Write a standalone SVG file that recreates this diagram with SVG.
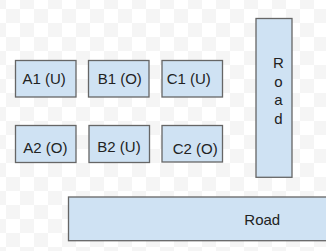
<svg xmlns="http://www.w3.org/2000/svg" width="326" height="251" viewBox="0 0 326 251">
<defs>
<pattern id="chk" patternUnits="userSpaceOnUse" x="6" y="9" width="28" height="28">
<rect width="28" height="28" fill="#ffffff"/>
<rect x="0" y="0" width="14" height="14" fill="#f5f5f5"/>
<rect x="14" y="14" width="14" height="14" fill="#f5f5f5"/>
</pattern>
</defs>
<style>
.box{fill:#cfe2f3;stroke:#666666;stroke-width:1.3}
.lbl{font-family:"Liberation Sans",Arial,sans-serif;font-size:15px;fill:#222222}
</style>
<rect width="326" height="251" fill="url(#chk)"/>
<g id="A1"><rect class="box" x="15.5" y="60.5" width="60.5" height="36.5"/><text class="lbl" x="22.5" y="84.3">A1 (U)</text></g>
<g id="B1"><rect class="box" x="88.5" y="60.5" width="60.5" height="36.5"/><text class="lbl" x="97.7" y="84">B1 (O)</text></g>
<g id="C1"><rect class="box" x="162" y="60.5" width="60.5" height="36.5"/><text class="lbl" x="166.7" y="84">C1 (U)</text></g>
<g id="A2"><rect class="box" x="15.5" y="125.5" width="60.5" height="37"/><text class="lbl" x="23.3" y="153.3">A2 (O)</text></g>
<g id="B2"><rect class="box" x="89" y="125.5" width="60.5" height="37"/><text class="lbl" x="97.3" y="152.3">B2 (U)</text></g>
<g id="C2"><rect class="box" x="162" y="125.5" width="60.5" height="36.5"/><text class="lbl" x="172.7" y="154">C2 (O)</text></g>
<g id="RoadV"><rect class="box" x="256" y="18.5" width="36" height="158.8"/>
<text class="lbl" text-anchor="middle" x="278.5" y="68.3">R</text>
<text class="lbl" text-anchor="middle" x="278.5" y="86.8">o</text>
<text class="lbl" text-anchor="middle" x="278.5" y="105.3">a</text>
<text class="lbl" text-anchor="middle" x="278.5" y="123.8">d</text>
</g>
<g id="RoadH"><rect class="box" x="68.5" y="197" width="262" height="43.7"/><text class="lbl" x="244.3" y="225">Road</text></g>
<g id="connectors"/>
</svg>
